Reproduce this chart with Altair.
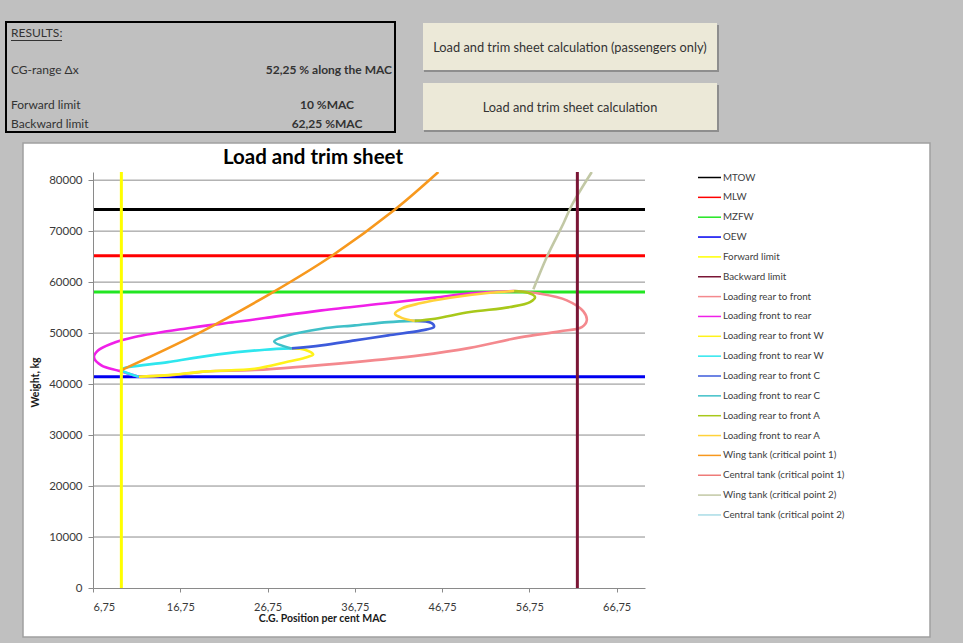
import altair as alt
import pandas as pd

FONT = "Lato"

# ---- axes -----------------------------------------------------------------
x_ticks = [6.75, 16.75, 26.75, 36.75, 46.75, 56.75, 66.75]
x_range = [6.75, 70.0]
y_ticks = [0, 10000, 20000, 30000, 40000, 50000, 60000, 70000, 80000]
y_range = [0, 81600]

# ---- series (legend order) -------------------------------------------------
series_names = [
    "MTOW", "MLW", "MZFW", "OEW", "Forward limit", "Backward limit",
    "Loading rear to front", "Loading front to rear",
    "Loading rear to front W", "Loading front to rear W",
    "Loading rear to front C", "Loading front to rear C",
    "Loading rear to front A", "Loading front to rear A",
    "Wing tank (critical point 1)", "Central tank (critical point 1)",
    "Wing tank (critical point 2)", "Central tank (critical point 2)",
]
series_colors = [
    "#000000", "#FF0000", "#22E622", "#0000F0", "#FFFF00", "#7A1535",
    "#F4898E", "#F020E8",
    "#FFF21A", "#2EE6EE",
    "#3D5BDB", "#40C0C8",
    "#A8C81A", "#FFD23A",
    "#F7981D", "#EE7B78",
    "#C2C8A5", "#A9DCE6",
]

# ---- weight limits (kg) and CG limits (%MAC) --------------------------------
weight_limit_names = ["MTOW", "MLW", "MZFW", "OEW"]
weight_limit_values = [74250, 65150, 58050, 41450]
cg_limit_names = ["Forward limit", "Backward limit"]
cg_limit_values = [10.0, 62.25]

# ---- loading curves: CG (%MAC) and weight (kg) ------------------------------
rear_front_x = [12.0, 16.1, 19.75, 25.3, 36.76, 44.2, 49.94, 55.68, 60.26, 62.76, 63.33, 62.94, 61.04, 57.94, 55.0]
rear_front_y = [41450, 41800, 42480, 42750, 44310, 45630, 47100, 49160, 50340, 51180, 52500, 54270, 56430, 57740, 58250]

front_rear_x = [12.0, 9.7, 7.71, 6.86, 7.32, 8.86, 11.53, 17.27, 23.0, 26.44, 32.94, 40.58, 45.94, 50.0, 55.0]
front_rear_y = [41450, 42600, 43660, 45290, 46600, 47920, 49220, 50870, 52160, 52950, 54460, 55900, 56960, 57800, 58250]

rear_front_w_x = [12.0, 15.0, 19.75, 25.29, 28.93, 31.03, 31.98, 31.03, 29.5]
rear_front_w_y = [41450, 41700, 42500, 43000, 44310, 45170, 45820, 46740, 47000]

front_rear_w_x = [12.0, 10.0, 15.35, 21.08, 26.44, 29.5]
front_rear_w_y = [41450, 42820, 44310, 45820, 46740, 47000]

rear_front_c_x = [29.5, 32.94, 36.76, 40.58, 44.41, 45.82, 45.56, 43.6]
rear_front_c_y = [47000, 47590, 48570, 49550, 50530, 51180, 51970, 52400]

front_rear_c_x = [29.5, 27.51, 29.11, 32.94, 36.76, 40.58, 43.6]
front_rear_c_y = [47000, 48370, 49550, 50870, 51520, 52160, 52400]

rear_front_a_x = [43.6, 45.94, 49.95, 54.54, 56.83, 57.4, 56.6, 55.0]
rear_front_a_y = [52400, 52830, 54130, 55110, 56090, 57070, 57900, 58250]

front_rear_a_x = [43.6, 42.12, 41.35, 42.15, 44.22, 47.66, 52.24, 55.0]
front_rear_a_y = [52400, 52990, 53810, 54850, 55840, 56920, 57900, 58250]

wing1_x = [9.82, 18.76, 27.39, 34.09, 41.35, 46.32]
wing1_y = [42600, 49900, 58050, 65130, 74250, 81600]

wing2_x = [57.21, 58.75, 60.65, 61.61, 63.9]
wing2_y = [58590, 64930, 71490, 75080, 81600]

curves = [
    ("Loading rear to front", rear_front_x, rear_front_y),
    ("Loading front to rear", front_rear_x, front_rear_y),
    ("Loading rear to front W", rear_front_w_x, rear_front_w_y),
    ("Loading front to rear W", front_rear_w_x, front_rear_w_y),
    ("Loading rear to front C", rear_front_c_x, rear_front_c_y),
    ("Loading front to rear C", front_rear_c_x, front_rear_c_y),
    ("Loading rear to front A", rear_front_a_x, rear_front_a_y),
    ("Loading front to rear A", front_rear_a_x, front_rear_a_y),
    ("Wing tank (critical point 1)", wing1_x, wing1_y),
    ("Wing tank (critical point 2)", wing2_x, wing2_y),
]

rows = []
for name, xs, ys in curves:
    for i, (xv, yv) in enumerate(zip(xs, ys)):
        rows.append({"series": name, "cg": xv, "weight": yv, "idx": i})
curve_df = pd.DataFrame(rows)

hrows = []
for name, w in zip(weight_limit_names, weight_limit_values):
    hrows.append({"series": name, "cg": x_range[0], "weight": w, "idx": 0})
    hrows.append({"series": name, "cg": x_range[1], "weight": w, "idx": 1})
weight_df = pd.DataFrame(hrows)

vrows = []
for name, c in zip(cg_limit_names, cg_limit_values):
    vrows.append({"series": name, "cg": c, "weight": y_range[0], "idx": 0})
    vrows.append({"series": name, "cg": c, "weight": y_range[1], "idx": 1})
cg_df = pd.DataFrame(vrows)

grid_df = pd.DataFrame({"weight": y_ticks[1:]})

# ---- page layout ------------------------------------------------------------
OX, OY = 93, 172          # plot-area origin on the page
PW, PH = 552, 416         # plot-area size
PAGE_W, PAGE_H = 963, 643

x_enc = alt.X(
    "cg:Q",
    scale=alt.Scale(domain=x_range, nice=False, zero=False),
    axis=alt.Axis(
        values=x_ticks,
        labelExpr="replace(format(datum.value, '.2f'), '.', ',')",
        title="C.G. Position per cent MAC",
        titleX=229, titleY=30, titleAlign="center", titleBaseline="middle",
        titleFontSize=10.5, titleFontWeight="bold", titleColor="#1a1a1a", titleFont=FONT,
        grid=False, tickSize=4, labelPadding=9, labelFontSize=11, labelColor="#3a3a3a",
        labelFont=FONT, domainColor="#8a8a8a", tickColor="#8a8a8a", zindex=1,
    ),
)
y_enc = alt.Y(
    "weight:Q",
    scale=alt.Scale(domain=y_range, nice=False, zero=True),
    axis=alt.Axis(
        values=y_ticks, format="d",
        title="Weight, kg",
        titleX=-58, titleY=210, titleAngle=270, titleAlign="center", titleBaseline="middle",
        titleFontSize=10.5, titleFontWeight="bold", titleColor="#1a1a1a", titleFont=FONT,
        grid=False, tickSize=5, labelPadding=6, labelFontSize=11.5, labelColor="#3a3a3a",
        labelFont=FONT, domainColor="#8a8a8a", tickColor="#8a8a8a", zindex=1,
    ),
)
color_enc = alt.Color(
    "series:N",
    scale=alt.Scale(domain=series_names, range=series_colors),
    legend=alt.Legend(
        title=None, orient="none", legendX=604, legendY=-7,
        symbolType="stroke", symbolSize=529, symbolStrokeWidth=1.5,
        labelFont=FONT, labelFontSize=9.8, labelColor="#404040",
        labelOffset=1, rowPadding=1.85, padding=0,
    ),
)


def blank():
    return alt.Chart(alt.Data(values=[{}]))


def box(x0, y0, x1, y1, fill, stroke=None, sw=0):
    kw = {"fill": fill}
    if stroke:
        kw.update(stroke=stroke, strokeWidth=sw)
    return blank().mark_rect(**kw).encode(
        x=alt.value(x0 - OX), x2=alt.value(x1 - OX),
        y=alt.value(y0 - OY), y2=alt.value(y1 - OY),
    )


def label(txt, px, py, size=12, weight="normal", align="left", color="#333333"):
    return blank().mark_text(
        text=txt, align=align, baseline="middle", font=FONT,
        fontSize=size, fontWeight=weight, color=color,
    ).encode(x=alt.value(px - OX), y=alt.value(py - OY))


# results panel and buttons above the chart
panel = [
    box(6, 22, 395, 132, "#C0C0C0", "#000000", 2),
    label("RESULTS:", 11, 33),
    blank().mark_rule(color="#333333", strokeWidth=1).encode(
        x=alt.value(11 - OX), x2=alt.value(62 - OX), y=alt.value(40.5 - OY)),
    label("CG-range Δx", 11, 69.5),
    label("52,25 % along the MAC", 392, 69.5, weight="bold", align="right"),
    label("Forward limit", 11, 105),
    label("10 %MAC", 327, 105, weight="bold", align="center"),
    label("Backward limit", 11, 124),
    label("62,25 %MAC", 327, 124, weight="bold", align="center"),
    box(424, 25, 719, 72, "#8E8E8E"),
    box(423, 23, 717, 70, "#ECE9D8"),
    label("Load and trim sheet calculation (passengers only)", 570, 47.5, size=12.8, align="center"),
    box(424, 85, 719, 132, "#8E8E8E"),
    box(423, 83, 717, 130, "#ECE9D8"),
    label("Load and trim sheet calculation", 570, 107.5, size=12.8, align="center"),
]

chart_frame = box(23, 143, 930, 637, "#FFFFFF", "#A0A0A0", 1.5)
chart_title = label("Load and trim sheet", 313, 158, size=20.5, weight="bold",
                    align="center", color="#000000")

grid = alt.Chart(grid_df).mark_rule(color="#8c8c8c", strokeWidth=1).encode(
    y=alt.Y("weight:Q", scale=alt.Scale(domain=y_range, nice=False))
)

weight_lines = alt.Chart(weight_df).mark_line(strokeWidth=3).encode(
    x=x_enc, y=y_enc, color=color_enc, order="idx:O"
)
curve_lines = alt.Chart(curve_df).mark_line(
    strokeWidth=2.6, interpolate="catmull-rom", clip=True
).encode(x=x_enc, y=y_enc, color=color_enc, order="idx:O")
cg_lines = alt.Chart(cg_df).mark_line(strokeWidth=3).encode(
    x=x_enc, y=y_enc, color=color_enc, order="idx:O"
)

chart = alt.layer(
    chart_frame, *panel, chart_title, grid, weight_lines, curve_lines, cg_lines
).properties(
    width=PW, height=PH,
    autosize=alt.AutoSizeParams(type="none"),
    padding={"left": OX, "top": OY, "right": PAGE_W - OX - PW, "bottom": PAGE_H - OY - PH},
).configure(
    background="#C0C0C0", font=FONT
).configure_view(strokeWidth=0)

chart.save("out.html", embed_options={"renderer": "svg", "actions": False})
